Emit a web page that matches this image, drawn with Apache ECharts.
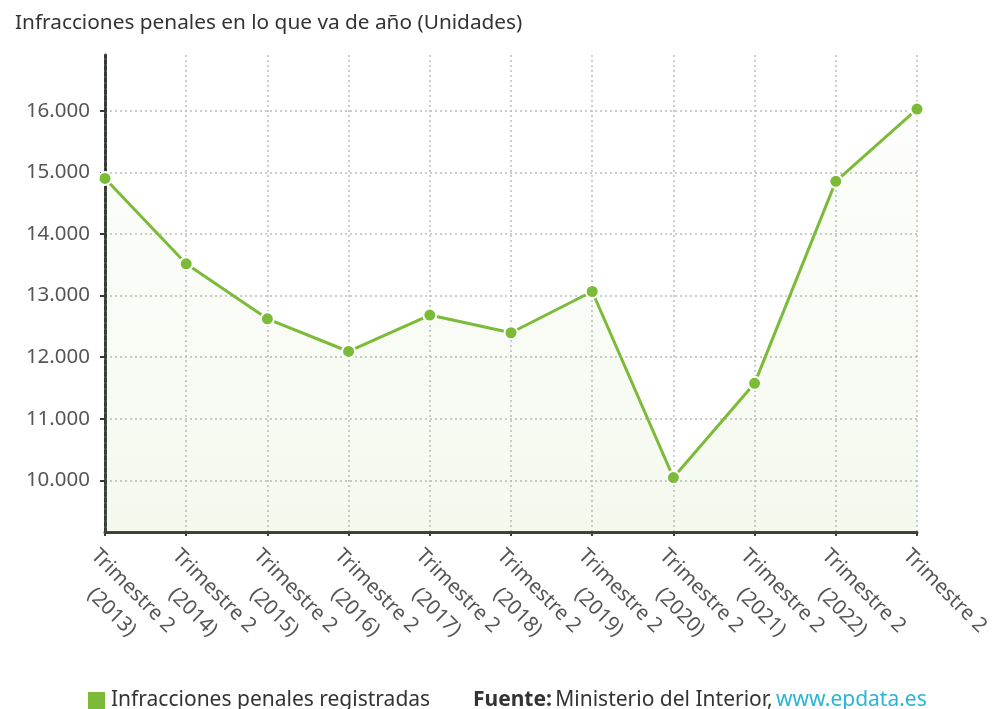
<!DOCTYPE html>
<html>
<head>
<meta charset="utf-8">
<script src="https://cdn.jsdelivr.net/npm/echarts@6/dist/echarts.min.js"></script>
<style>
html,body{margin:0;padding:0;background:#fff;}
#chart{width:996px;height:709px;}
</style>
</head>
<body>
<div id="chart"></div>
<script>
var titleText = 'Infracciones penales en lo que va de año (Unidades)';
var categories = ['Trimestre 2\n(2013)','Trimestre 2\n(2014)','Trimestre 2\n(2015)','Trimestre 2\n(2016)','Trimestre 2\n(2017)','Trimestre 2\n(2018)','Trimestre 2\n(2019)','Trimestre 2\n(2020)','Trimestre 2\n(2021)','Trimestre 2\n(2022)','Trimestre 2'];
var seriesName = 'Infracciones penales registradas';
var values = [14900, 13515, 12622, 12091, 12682, 12395, 13065, 10044, 11574, 14854, 16027];
var yTicks = [10000, 11000, 12000, 13000, 14000, 15000, 16000];

var FONT = '"Noto Sans", "Open Sans", sans-serif';
var GREEN = '#7cbb38';

var chart = echarts.init(document.getElementById('chart'), null, {renderer: 'canvas'});
chart.setOption({
  animation: false,
  backgroundColor: '#fff',
  textStyle: {fontFamily: FONT},
  title: {
    text: titleText,
    left: 10, top: 8,
    textStyle: {fontFamily: FONT, fontSize: 20.8, fontWeight: 'normal', color: '#333'}
  },
  legend: {
    data: [seriesName],
    left: 81, top: 685, padding: 5,
    icon: 'rect', itemWidth: 19, itemHeight: 19, itemGap: 6,
    lineStyle: {width: 0},
    textStyle: {fontFamily: FONT, fontSize: 21, color: '#333', padding: [0, 0, 0, 0]}
  },
  grid: {left: 105, right: 79, top: 55, bottom: 177, containLabel: false},
  xAxis: {
    type: 'category',
    data: categories,
    boundaryGap: false,
    axisLine: {lineStyle: {color: '#3a413a', width: 3}},
    axisTick: {show: true, length: 4, lineStyle: {color: '#3a413a', width: 2}},
    splitLine: {show: true, lineStyle: {color: '#bdbdbd', type: [2, 3], width: 1.5}},
    axisLabel: {
      rotate: -45, margin: 10, interval: 0,
      fontFamily: FONT, fontSize: 20.5, color: '#555',
      verticalAlign: 'top',
      formatter: function (v) {
        var parts = v.split('\n');
        var s = '{a|' + parts[0] + '}';
        if (parts[1]) s += '\n{b|' + parts[1] + '}';
        return s;
      },
      rich: {
        a: {fontFamily: FONT, fontSize: 20.5, color: '#555', lineHeight: 30, align: 'center'},
        b: {fontFamily: FONT, fontSize: 20.5, color: '#555', lineHeight: 30, align: 'center'}
      }
    }
  },
  yAxis: {
    type: 'value',
    min: 9160, max: 16905,
    axisLine: {show: true, lineStyle: {color: '#363a36', width: 3, type: [4, 2]}},
    axisTick: {show: true, length: 5, customValues: yTicks, lineStyle: {color: '#363a36', width: 2}},
    splitLine: {show: true, lineStyle: {color: '#bdbdbd', type: [2, 3], width: 1.5}},
    axisLabel: {
      customValues: yTicks, margin: 15,
      fontFamily: FONT, fontSize: 20.5, color: '#555',
      formatter: function (v) { return String(v).replace(/\B(?=(\d{3})+(?!\d))/g, '.'); }
    }
  },
  series: [{
    name: seriesName,
    type: 'line',
    data: values,
    color: GREEN,
    lineStyle: {color: GREEN, width: 3},
    symbol: 'circle', symbolSize: 13,
    itemStyle: {color: GREEN, borderColor: '#fff', borderWidth: 2},
    areaStyle: {
      color: new echarts.graphic.LinearGradient(0, 0, 0, 1, [
        {offset: 0, color: 'rgba(124,187,56,0.02)'},
        {offset: 1, color: 'rgba(124,187,56,0.12)'}
      ])
    }
  }],
  graphic: [{
    type: 'text',
    x: 473, y: 700,
    style: {
      text: '{b|Fuente:} {n|Ministerio del Interior,} {l|www.epdata.es}',
      verticalAlign: 'middle',
      rich: {
        b: {fontFamily: FONT, fontSize: 21, fontWeight: 'bold', fill: '#333'},
        n: {fontFamily: FONT, fontSize: 21, fill: '#333'},
        l: {fontFamily: FONT, fontSize: 21, fill: '#2ab5d3'}
      }
    }
  }]
});
</script>
</body>
</html>
